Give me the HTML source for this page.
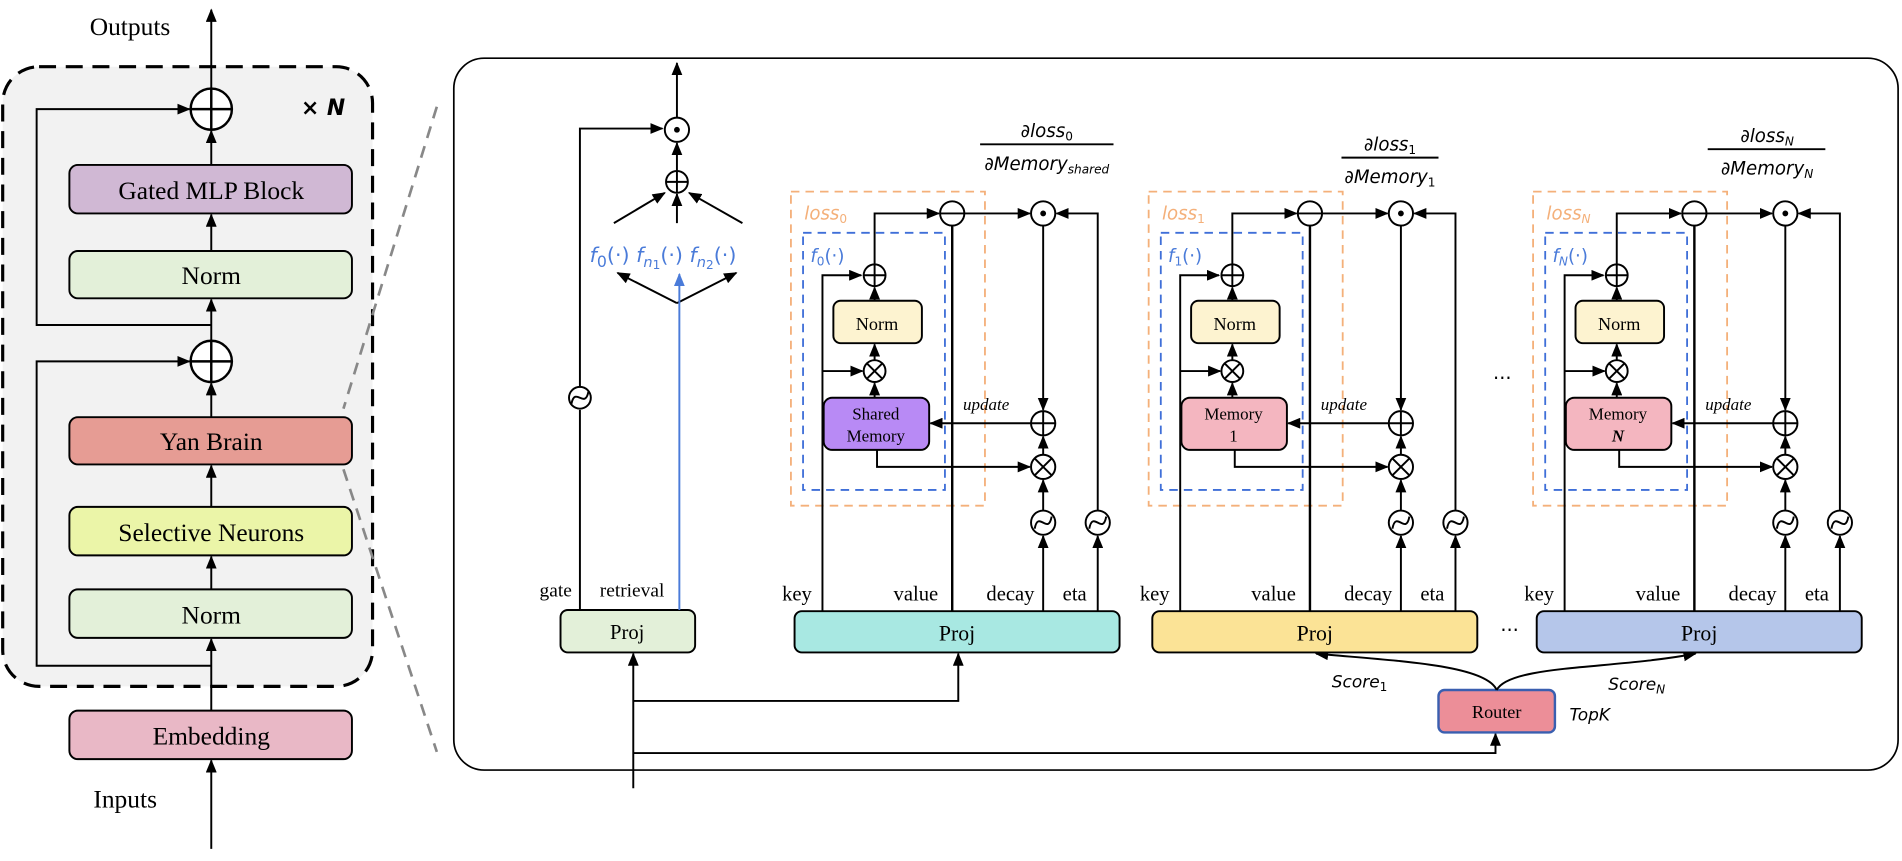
<!DOCTYPE html>
<html><head><meta charset="utf-8"><style>
html,body{margin:0;padding:0;background:#fff;}
svg{display:block;}
.s{font-family:"Liberation Serif",serif;fill:#000;}
.m{font-family:"DejaVu Sans","Liberation Sans",sans-serif;font-style:italic;}
</style></head><body>
<svg width="1902" height="861" viewBox="0 0 1568 710" xmlns="http://www.w3.org/2000/svg">
<defs>
<marker id="a" markerUnits="userSpaceOnUse" markerWidth="11" markerHeight="9" refX="10" refY="4.5" orient="auto"><path d="M0,0 L11,4.5 L0,9 z" fill="#000"/></marker>
<marker id="b" markerUnits="userSpaceOnUse" markerWidth="11" markerHeight="9" refX="10" refY="4.5" orient="auto"><path d="M0,0 L11,4.5 L0,9 z" fill="#4a7bd9"/></marker>
</defs>
<g stroke="#000" stroke-width="1.6" fill="none">
<rect x="2" y="55" width="305" height="511" rx="30" fill="#f2f2f2" stroke-width="2.6" stroke-dasharray="14,8"/>
<line x1="174" y1="73" x2="174" y2="8" marker-end="url(#a)"/>
<circle cx="174" cy="90" r="17" fill="#fff" stroke-width="2"/>
<line x1="157" y1="90" x2="191" y2="90" stroke-width="2"/><line x1="174" y1="73" x2="174" y2="107" stroke-width="2"/>
<path d="M174 136 V108" marker-end="url(#a)"/>
<rect x="57" y="136" width="233" height="40" rx="7" fill="#d0b8d4"/>
<path d="M174 207 V177" marker-end="url(#a)"/>
<rect x="57" y="207" width="233" height="39" rx="7" fill="#e3f0d9"/>
<path d="M174 281 V247" marker-end="url(#a)"/>
<path d="M174 268 H30 V90 H156" marker-end="url(#a)"/>
<circle cx="174" cy="298" r="17" fill="#fff" stroke-width="2"/>
<line x1="157" y1="298" x2="191" y2="298" stroke-width="2"/><line x1="174" y1="281" x2="174" y2="315" stroke-width="2"/>
<path d="M174 344 V316" marker-end="url(#a)"/>
<rect x="57" y="344" width="233" height="39" rx="7" fill="#e69c94"/>
<path d="M174 418 V384" marker-end="url(#a)"/>
<rect x="57" y="418" width="233" height="40" rx="7" fill="#ebf5a8"/>
<path d="M174 486 V459" marker-end="url(#a)"/>
<rect x="57" y="486" width="233" height="40" rx="7" fill="#e3f0d9"/>
<path d="M174 586 V527" marker-end="url(#a)"/>
<path d="M174 549 H30 V298 H156" marker-end="url(#a)"/>
<rect x="57" y="586" width="233" height="40" rx="7" fill="#e9b8c6"/>
<path d="M174 700 V627" marker-end="url(#a)"/>
<line x1="360" y1="88" x2="283" y2="337" stroke="#888" stroke-width="2.2" stroke-dasharray="10,7"/>
<line x1="283" y1="387" x2="360" y2="620" stroke="#888" stroke-width="2.2" stroke-dasharray="10,7"/>

<rect x="374" y="48" width="1191" height="587" rx="25" stroke-width="1.4"/>
<rect x="462" y="503" width="111" height="35" rx="6" fill="#e3f0d9"/>
<path d="M478 503 V338"/>
<circle cx="478" cy="328" r="9" fill="#fff"/>
<path d="M471 333 C474 318 482 338 485 323"/>
<path d="M478 319 V106 H546" marker-end="url(#a)"/>
<circle cx="558" cy="107" r="10" fill="#fff"/><circle cx="558" cy="107" r="1.6" fill="#000"/>
<path d="M558 97 V52" marker-end="url(#a)"/>
<circle cx="558" cy="150" r="9" fill="#fff"/>
<line x1="549" y1="150" x2="567" y2="150"/><line x1="558" y1="141" x2="558" y2="159"/>
<path d="M558 141 V118" marker-end="url(#a)"/>
<path d="M506 184 L548 159" marker-end="url(#a)"/>
<path d="M558 184 V160" marker-end="url(#a)"/>
<path d="M612 184 L568 159" marker-end="url(#a)"/>
<path d="M558 250 L509 225" marker-end="url(#a)"/>
<path d="M558 250 L607 225" marker-end="url(#a)"/>
<path d="M560 503 V226" stroke="#4a7bd9" marker-end="url(#b)"/>
<path d="M522 650 V539" marker-end="url(#a)"/>
<path d="M522 578 H790 V539" marker-end="url(#a)"/>
<path d="M522 621 H1233 V605" marker-end="url(#a)"/>
<rect x="1186" y="569" width="96" height="35" rx="5" fill="#ec8e98" stroke="#3a5fb0" stroke-width="2"/>
<path d="M1234 569 C1225 548 1150 545 1085 539" marker-end="url(#a)"/>
<path d="M1234 569 C1245 548 1330 552 1398 539" marker-end="url(#a)"/>
</g>

<g stroke="#000" stroke-width="1.6" fill="none">
<rect x="652" y="158" width="160" height="259" stroke="#f4b07a" stroke-width="1.5" stroke-dasharray="7,5"/>
<rect x="662" y="192" width="117" height="212" stroke="#3f6fd8" stroke-width="1.5" stroke-dasharray="7,5"/>
<rect x="655" y="504" width="268" height="34" rx="6" fill="#a8e8e2"/>
<rect x="687" y="248" width="73" height="35" rx="6" fill="#fdf3d0"/>
<rect x="679" y="328" width="87" height="43" rx="7" fill="#b88af5"/>
</g>
<g stroke="#000" stroke-width="1.6" fill="none" transform="translate(295,0)">
<rect x="652" y="158" width="160" height="259" stroke="#f4b07a" stroke-width="1.5" stroke-dasharray="7,5"/>
<rect x="662" y="192" width="117" height="212" stroke="#3f6fd8" stroke-width="1.5" stroke-dasharray="7,5"/>
<rect x="655" y="504" width="268" height="34" rx="6" fill="#fbe396"/>
<rect x="687" y="248" width="73" height="35" rx="6" fill="#fdf3d0"/>
<rect x="679" y="328" width="87" height="43" rx="7" fill="#f4b6c0"/>
</g>
<g stroke="#000" stroke-width="1.6" fill="none" transform="translate(612,0)">
<rect x="652" y="158" width="160" height="259" stroke="#f4b07a" stroke-width="1.5" stroke-dasharray="7,5"/>
<rect x="662" y="192" width="117" height="212" stroke="#3f6fd8" stroke-width="1.5" stroke-dasharray="7,5"/>
<rect x="655" y="504" width="268" height="34" rx="6" fill="#b5c6ea"/>
<rect x="687" y="248" width="73" height="35" rx="6" fill="#fdf3d0"/>
<rect x="679" y="328" width="87" height="43" rx="7" fill="#f4b6c0"/>
</g>
<g stroke="#000" stroke-width="1.6" fill="none">
<g>
<path d="M678 504 V227 H710" marker-end="url(#a)"/>
<path d="M678 306 H711" marker-end="url(#a)"/>
<circle cx="721" cy="227" r="9" fill="#fff"/><line x1="712" y1="227" x2="730" y2="227"/><line x1="721" y1="218" x2="721" y2="236"/>
<circle cx="721" cy="306" r="9" fill="#fff"/><line x1="715" y1="300" x2="727" y2="312"/><line x1="727" y1="300" x2="715" y2="312"/>
<path d="M721 297 V284" marker-end="url(#a)"/>
<path d="M721 328 V316" marker-end="url(#a)"/>
<path d="M721 248 V237" marker-end="url(#a)"/>
<path d="M721 218 V176 H774" marker-end="url(#a)"/>
<circle cx="785" cy="176" r="10" fill="#fff"/><line x1="775" y1="176" x2="795" y2="176"/>
<path d="M785 504 V186" stroke-width="2"/>
<path d="M795 176 H849" marker-end="url(#a)"/>
<circle cx="860" cy="176" r="10" fill="#fff"/><circle cx="860" cy="176" r="1.6" fill="#000"/>
<path d="M860 186 V338" marker-end="url(#a)"/>
<circle cx="860" cy="349" r="10" fill="#fff"/><line x1="850" y1="349" x2="870" y2="349"/><line x1="860" y1="339" x2="860" y2="359"/>
<path d="M850 349 H767" marker-end="url(#a)"/>
<path d="M723 371 V385 H849" marker-end="url(#a)"/>
<circle cx="860" cy="385" r="10" fill="#fff"/><line x1="853" y1="378" x2="867" y2="392"/><line x1="867" y1="378" x2="853" y2="392"/>
<path d="M860 375 V360" marker-end="url(#a)"/>
<circle cx="860" cy="431" r="10" fill="#fff"/><path d="M853 436 C856 420 864 442 867 426"/>
<path d="M860 421 V396" marker-end="url(#a)"/>
<path d="M860 504 V442" marker-end="url(#a)"/>
<circle cx="905" cy="431" r="10" fill="#fff"/><path d="M898 436 C901 420 909 442 912 426"/>
<path d="M905 504 V442" marker-end="url(#a)"/>
<path d="M905 421 V176 H871" marker-end="url(#a)"/>
</g>
<g transform="translate(295,0)">
<path d="M678 504 V227 H710" marker-end="url(#a)"/>
<path d="M678 306 H711" marker-end="url(#a)"/>
<circle cx="721" cy="227" r="9" fill="#fff"/><line x1="712" y1="227" x2="730" y2="227"/><line x1="721" y1="218" x2="721" y2="236"/>
<circle cx="721" cy="306" r="9" fill="#fff"/><line x1="715" y1="300" x2="727" y2="312"/><line x1="727" y1="300" x2="715" y2="312"/>
<path d="M721 297 V284" marker-end="url(#a)"/>
<path d="M721 328 V316" marker-end="url(#a)"/>
<path d="M721 248 V237" marker-end="url(#a)"/>
<path d="M721 218 V176 H774" marker-end="url(#a)"/>
<circle cx="785" cy="176" r="10" fill="#fff"/><line x1="775" y1="176" x2="795" y2="176"/>
<path d="M785 504 V186" stroke-width="2"/>
<path d="M795 176 H849" marker-end="url(#a)"/>
<circle cx="860" cy="176" r="10" fill="#fff"/><circle cx="860" cy="176" r="1.6" fill="#000"/>
<path d="M860 186 V338" marker-end="url(#a)"/>
<circle cx="860" cy="349" r="10" fill="#fff"/><line x1="850" y1="349" x2="870" y2="349"/><line x1="860" y1="339" x2="860" y2="359"/>
<path d="M850 349 H767" marker-end="url(#a)"/>
<path d="M723 371 V385 H849" marker-end="url(#a)"/>
<circle cx="860" cy="385" r="10" fill="#fff"/><line x1="853" y1="378" x2="867" y2="392"/><line x1="867" y1="378" x2="853" y2="392"/>
<path d="M860 375 V360" marker-end="url(#a)"/>
<circle cx="860" cy="431" r="10" fill="#fff"/><path d="M853 436 C856 420 864 442 867 426"/>
<path d="M860 421 V396" marker-end="url(#a)"/>
<path d="M860 504 V442" marker-end="url(#a)"/>
<circle cx="905" cy="431" r="10" fill="#fff"/><path d="M898 436 C901 420 909 442 912 426"/>
<path d="M905 504 V442" marker-end="url(#a)"/>
<path d="M905 421 V176 H871" marker-end="url(#a)"/>
</g>
<g transform="translate(612,0)">
<path d="M678 504 V227 H710" marker-end="url(#a)"/>
<path d="M678 306 H711" marker-end="url(#a)"/>
<circle cx="721" cy="227" r="9" fill="#fff"/><line x1="712" y1="227" x2="730" y2="227"/><line x1="721" y1="218" x2="721" y2="236"/>
<circle cx="721" cy="306" r="9" fill="#fff"/><line x1="715" y1="300" x2="727" y2="312"/><line x1="727" y1="300" x2="715" y2="312"/>
<path d="M721 297 V284" marker-end="url(#a)"/>
<path d="M721 328 V316" marker-end="url(#a)"/>
<path d="M721 248 V237" marker-end="url(#a)"/>
<path d="M721 218 V176 H774" marker-end="url(#a)"/>
<circle cx="785" cy="176" r="10" fill="#fff"/><line x1="775" y1="176" x2="795" y2="176"/>
<path d="M785 504 V186" stroke-width="2"/>
<path d="M795 176 H849" marker-end="url(#a)"/>
<circle cx="860" cy="176" r="10" fill="#fff"/><circle cx="860" cy="176" r="1.6" fill="#000"/>
<path d="M860 186 V338" marker-end="url(#a)"/>
<circle cx="860" cy="349" r="10" fill="#fff"/><line x1="850" y1="349" x2="870" y2="349"/><line x1="860" y1="339" x2="860" y2="359"/>
<path d="M850 349 H767" marker-end="url(#a)"/>
<path d="M723 371 V385 H849" marker-end="url(#a)"/>
<circle cx="860" cy="385" r="10" fill="#fff"/><line x1="853" y1="378" x2="867" y2="392"/><line x1="867" y1="378" x2="853" y2="392"/>
<path d="M860 375 V360" marker-end="url(#a)"/>
<circle cx="860" cy="431" r="10" fill="#fff"/><path d="M853 436 C856 420 864 442 867 426"/>
<path d="M860 421 V396" marker-end="url(#a)"/>
<path d="M860 504 V442" marker-end="url(#a)"/>
<circle cx="905" cy="431" r="10" fill="#fff"/><path d="M898 436 C901 420 909 442 912 426"/>
<path d="M905 504 V442" marker-end="url(#a)"/>
<path d="M905 421 V176 H871" marker-end="url(#a)"/>
</g>
<line x1="808" y1="119" x2="918" y2="119"/>
<line x1="1106" y1="130" x2="1186" y2="130"/>
<line x1="1408" y1="123" x2="1505" y2="123"/>
</g>

<g class="s" text-anchor="middle">
<text x="107" y="29" font-size="21">Outputs</text>
<text x="103" y="666" font-size="21">Inputs</text>
<text x="174" y="164" font-size="21">Gated MLP Block</text>
<text x="174" y="234" font-size="21">Norm</text>
<text x="174" y="371" font-size="21">Yan Brain</text>
<text x="174" y="446" font-size="21">Selective Neurons</text>
<text x="174" y="514" font-size="21">Norm</text>
<text x="174" y="614" font-size="21">Embedding</text>
<text x="517" y="527" font-size="17">Proj</text>
<text x="458" y="492" font-size="16">gate</text>
<text x="521" y="492" font-size="16">retrieval</text>
<text x="1234" y="592" font-size="15">Router</text>
</g>
<text x="248" y="95" font-family="DejaVu Sans,sans-serif" font-size="18" font-weight="bold" font-style="italic">× N</text>
<text x="486" y="216" class="m" font-size="17" fill="#4a7bd9">f<tspan font-style="normal" font-size="13" dy="4">0</tspan><tspan font-style="normal" dy="-4">(·)</tspan> f<tspan font-size="12" dy="4">n</tspan><tspan font-style="normal" font-size="10" dy="2">1</tspan><tspan font-style="normal" dy="-6">(·)</tspan> f<tspan font-size="12" dy="4">n</tspan><tspan font-style="normal" font-size="10" dy="2">2</tspan><tspan font-style="normal" dy="-6">(·)</tspan></text>
<text x="1231" y="317" font-size="16" font-family="DejaVu Sans,sans-serif">···</text>
<text x="1237" y="525" font-size="16" font-family="DejaVu Sans,sans-serif">···</text>
<text x="1098" y="567" class="m" font-size="14">Score<tspan font-style="normal" font-size="10" dy="3">1</tspan></text>
<text x="1326" y="569" class="m" font-size="14">Score<tspan font-size="10" dy="3">N</tspan></text>
<text x="1294" y="594" class="m" font-size="14">TopK</text>

<g class="s" text-anchor="middle" font-size="17">
<text x="657" y="495">key</text><text x="755" y="495">value</text><text x="833" y="495">decay</text><text x="886" y="495">eta</text>
<text x="789" y="528" font-size="18">Proj</text>
<text x="723" y="272" font-size="15">Norm</text>
<text x="722" y="346" font-size="14">Shared</text><text x="722" y="364" font-size="14">Memory</text>
<text x="813" y="338" font-size="14" font-style="italic">update</text>
</g>
<g class="s" text-anchor="middle" font-size="17" transform="translate(295,0)">
<text x="657" y="495">key</text><text x="755" y="495">value</text><text x="833" y="495">decay</text><text x="886" y="495">eta</text>
<text x="789" y="528" font-size="18">Proj</text>
<text x="723" y="272" font-size="15">Norm</text>
<text x="722" y="346" font-size="14">Memory</text><text x="722" y="364" font-size="14">1</text>
<text x="813" y="338" font-size="14" font-style="italic">update</text>
</g>
<g class="s" text-anchor="middle" font-size="17" transform="translate(612,0)">
<text x="657" y="495">key</text><text x="755" y="495">value</text><text x="833" y="495">decay</text><text x="886" y="495">eta</text>
<text x="789" y="528" font-size="18">Proj</text>
<text x="723" y="272" font-size="15">Norm</text>
<text x="722" y="346" font-size="14">Memory</text><text x="722" y="364" font-size="14" font-style="italic" font-weight="bold">N</text>
<text x="813" y="338" font-size="14" font-style="italic">update</text>
</g>
<g class="m" font-size="15">
<text x="663" y="181" fill="#f4b07a">loss<tspan font-style="normal" font-size="10" dy="3">0</tspan></text>
<text x="958" y="181" fill="#f4b07a">loss<tspan font-style="normal" font-size="10" dy="3">1</tspan></text>
<text x="1275" y="181" fill="#f4b07a">loss<tspan font-size="10" dy="3">N</tspan></text>
<text x="668" y="216" fill="#4a7bd9">f<tspan font-style="normal" font-size="10" dy="3">0</tspan><tspan font-style="normal" dy="-3">(·)</tspan></text>
<text x="963" y="216" fill="#4a7bd9">f<tspan font-style="normal" font-size="10" dy="3">1</tspan><tspan font-style="normal" dy="-3">(·)</tspan></text>
<text x="1280" y="216" fill="#4a7bd9">f<tspan font-size="10" dy="3">N</tspan><tspan font-style="normal" dy="-3">(·)</tspan></text>
</g>
<g font-family="DejaVu Sans,sans-serif" font-size="15" text-anchor="middle">
<text x="863" y="113">∂<tspan font-style="italic">loss</tspan><tspan font-size="10" dy="3">0</tspan></text>
<text x="863" y="140">∂<tspan font-style="italic">Memory</tspan><tspan font-size="10" dy="3" font-style="italic">shared</tspan></text>
<text x="1146" y="124">∂<tspan font-style="italic">loss</tspan><tspan font-size="10" dy="3">1</tspan></text>
<text x="1146" y="151">∂<tspan font-style="italic">Memory</tspan><tspan font-size="10" dy="3">1</tspan></text>
<text x="1457" y="117">∂<tspan font-style="italic">loss</tspan><tspan font-size="10" dy="3" font-style="italic">N</tspan></text>
<text x="1457" y="144">∂<tspan font-style="italic">Memory</tspan><tspan font-size="10" dy="3" font-style="italic">N</tspan></text>
</g>
</svg>
</body></html>
